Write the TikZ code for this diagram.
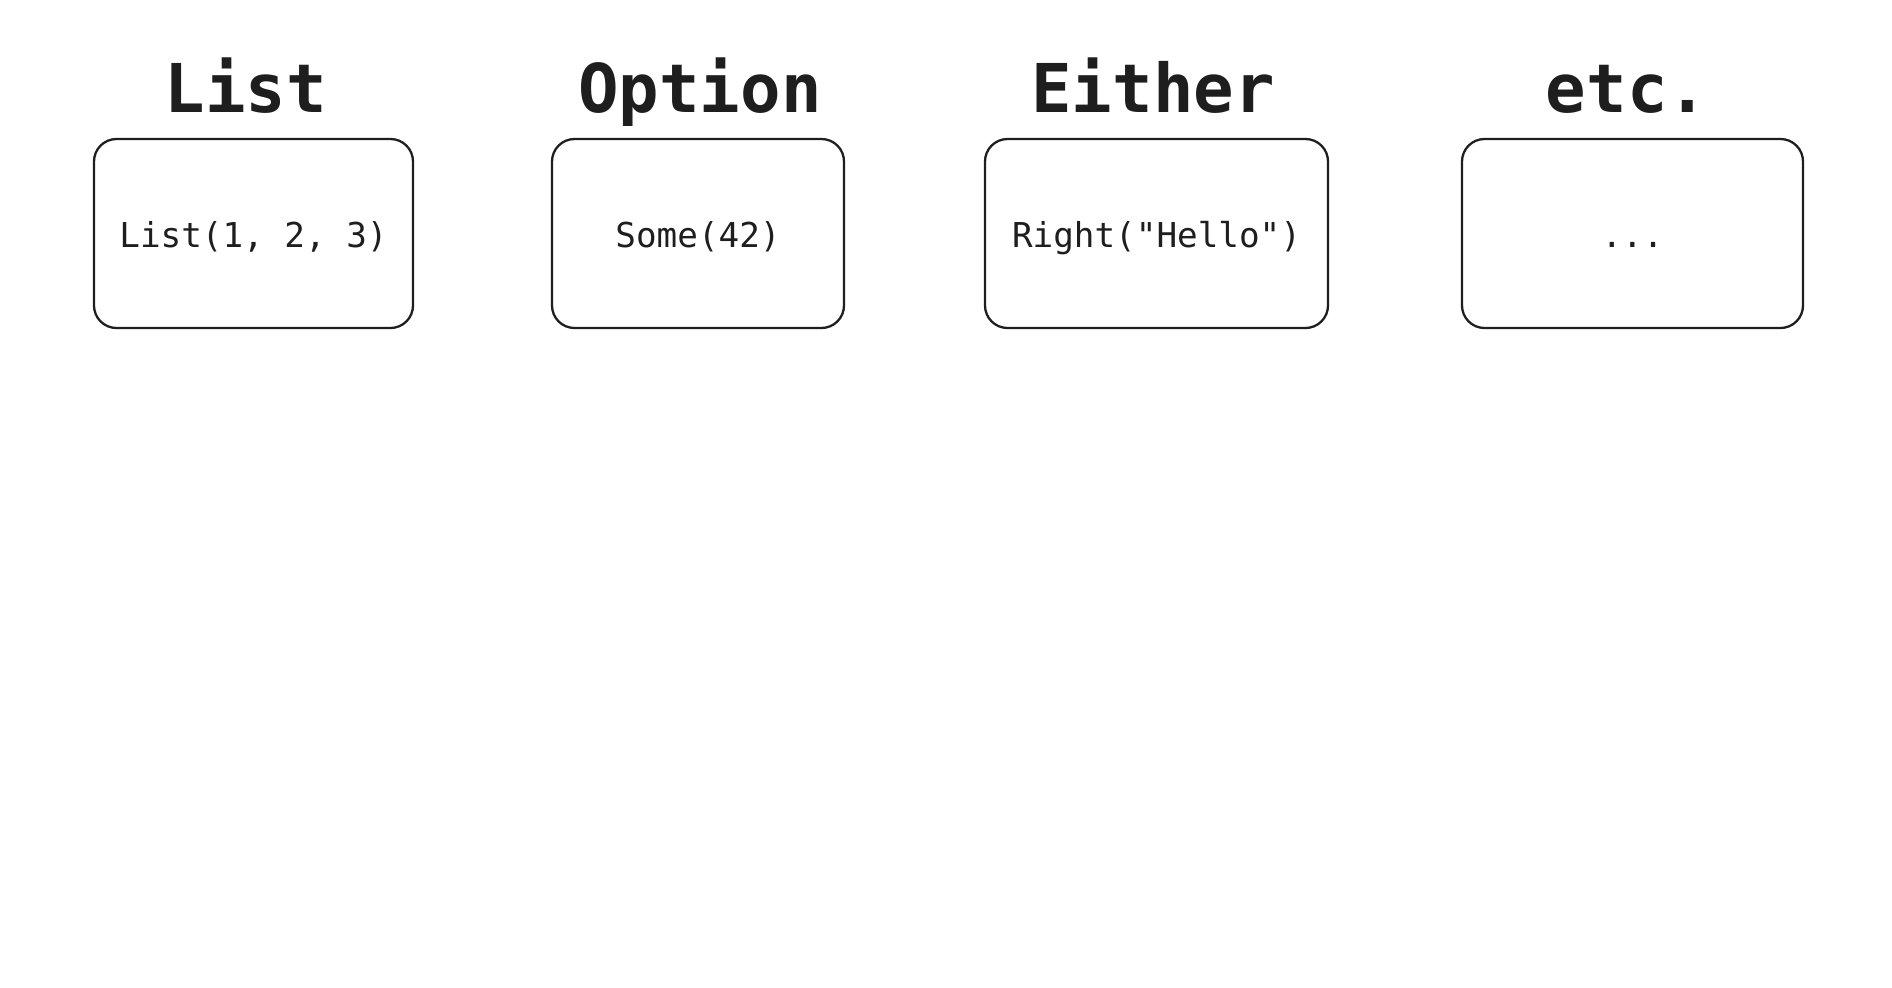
\documentclass[tikz,border=0pt]{standalone}
\usepackage{fontspec}
\setmonofont{DejaVu Sans Mono}
\definecolor{inkgrey}{HTML}{1E1E1E}

\begin{document}
\begin{tikzpicture}[
    box/.style={draw=inkgrey, line width=1.3pt, rounded corners=0.45cm,
        minimum height=3.78cm, text height=0.6cm, text depth=0.06cm,
        font=\ttfamily\fontsize{19.5}{22}\selectfont, text=inkgrey},
    title/.style={anchor=base, font=\ttfamily\bfseries\fontsize{38.3}{44}\selectfont, text=inkgrey}
]
    \useasboundingbox (0,0) rectangle (37.84,-19.74);

    \def\kind#1#2#3#4#5#6{%
        \node[box, minimum width=#3cm] (#1) at (#2,-4.67) {#5};
        \node[title] (#1title) at ([xshift=#6cm, yshift=0.51cm]#1.north) {#4};
    }

    % List -> List(1, 2, 3)
    \kind{list}{5.07}{6.38}{List}{List(1, 2, 3)}{-0.15}

    % Option -> Some(42)
    \kind{option}{13.96}{5.84}{Option}{Some(42)}{0.04}

    % Either -> Right("Hello")
    \kind{either}{23.13}{6.86}{Either}{Right("Hello")}{-0.07}

    % etc. -> ...
    \kind{etc}{32.65}{6.82}{etc.}{...}{-0.11}

\end{tikzpicture}
\end{document}
